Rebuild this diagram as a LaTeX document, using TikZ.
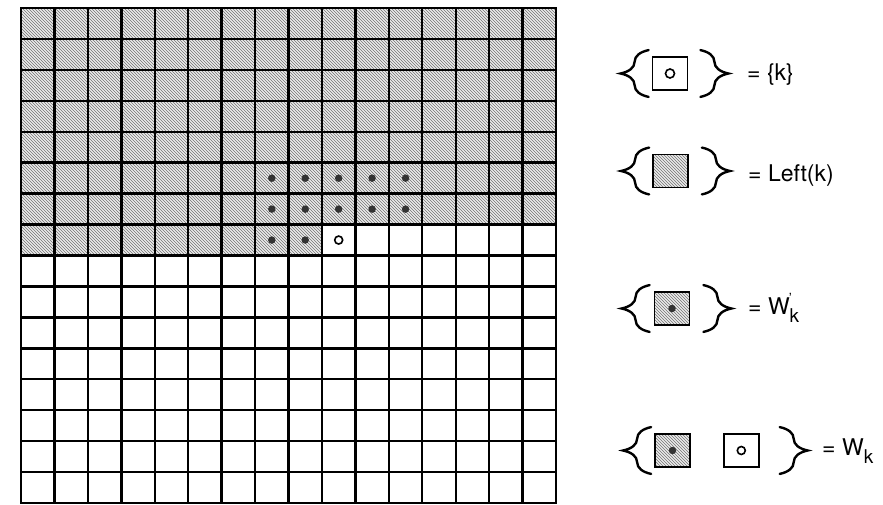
\documentclass[tikz,border=0pt]{standalone}
\usepackage{fontspec}
\setmainfont{TeX Gyre Heros}
\usetikzlibrary{calc,patterns,positioning,decorations.pathreplacing}

\begin{document}
\begin{tikzpicture}[
    x=1pt, y=-1pt,
    font=\fontsize{23}{27}\selectfont,
    gridline/.style={line width=2.4pt, draw=black, line cap=rect},
    hatched/.style={
        preaction={fill=gray!16},
        pattern=north west lines,
        pattern color=black!55
    },
    cellbox/.style={
        draw=black,
        line width=1.8pt,
        minimum width=35pt,
        minimum height=33pt,
        inner sep=0pt
    },
    dotin/.style={circle, fill=black!80, inner sep=0pt, minimum size=7.5pt},
    dotk/.style={circle, draw=black, fill=white, line width=1.6pt, inner sep=0pt, minimum size=8pt},
    lbrace/.style={decorate, decoration={brace, amplitude=28pt}, line width=2.4pt, line cap=round},
    keytext/.style={anchor=west, inner sep=0pt},
    subk/.style={}
]

\useasboundingbox (0,0) rectangle (883,505);

% A. Image grid, rows above k hatched
\path[hatched] (21,8) -- (556,8) -- (556,224.6) -- (322.4,224.6)
    -- (322.4,255.5) -- (21,255.5) -- cycle;
\foreach \i in {0,...,16}
    \draw[gridline] ({21+\i*33.44},8) -- ({21+\i*33.44},503);
\foreach \j in {0,...,16}
    \draw[gridline] (21,{8+\j*30.94}) -- (556,{8+\j*30.94});

% window pixels W'_k and the pixel k
\foreach \c in {7,...,11}
    \foreach \r in {5,6}
        \node[dotin] (w-\c-\r) at ({21+(\c+0.5)*33.44},{8+(\r+0.5)*30.94}) {};
\node[dotin] (w-7-7) at ({21+7.5*33.44},{8+7.5*30.94}) {};
\node[dotin] (w-8-7) at ({21+8.5*33.44},{8+7.5*30.94}) {};
\node[dotk] (k) at ({21+9.5*33.44},{8+7.5*30.94}) {};

% B. Key
\node[cellbox] (keyk) at (670,73.5) {};
\node[dotk, minimum size=9pt] (keykdot) at (keyk) {};
\draw[lbrace] ($(keyk.south west)+(-3,6)$) -- ($(keyk.north west)+(-3,-6)$);
\draw[lbrace] ($(keyk.north east)+(12,-6)$) -- ($(keyk.south east)+(12,6)$);
\node[keytext] (lblk) at (747,75) {= \{k\}};

\node[cellbox, hatched] (keyleft) at (670.5,171) {};
\draw[lbrace] ($(keyleft.south west)+(-3,6)$) -- ($(keyleft.north west)+(-3,-6)$);
\draw[lbrace] ($(keyleft.north east)+(13,-6)$) -- ($(keyleft.south east)+(13,6)$);
\node[keytext] (lblleft) at (748,176) {= Left(k)};

\node[cellbox, hatched] (keywp) at (672,308.5) {};
\node[dotin] (keywpdot) at (keywp) {};
\draw[lbrace] ($(keywp.south west)+(-4,6)$) -- ($(keywp.north west)+(-4,-6)$);
\draw[lbrace] ($(keywp.north east)+(13,-6)$) -- ($(keywp.south east)+(13,6)$);
\node[keytext] (lblwp) at (748,308)
    {= W\raisebox{-0.35em}{\fontsize{19}{21}\selectfont k}\kern-0.45em\raisebox{0.45em}{\fontsize{14}{16}\selectfont '}};

\node[cellbox, hatched] (keywa) at (672.5,450.5) {};
\node[dotin] (keywadot) at (keywa) {};
\node[cellbox, right=32pt of keywa] (keywb) {};
\node[dotk] (keywbdot) at (keywb) {};
\draw[lbrace] ($(keywa.south west)+(-3,6)$) -- ($(keywa.north west)+(-3,-6)$);
\draw[lbrace] ($(keywb.north east)+(20,-6)$) -- ($(keywb.south east)+(20,6)$);
\node[keytext] (lblw) at (822,451) {= W\raisebox{-0.35em}{\fontsize{19}{21}\selectfont k}};

\end{tikzpicture}
\end{document}
